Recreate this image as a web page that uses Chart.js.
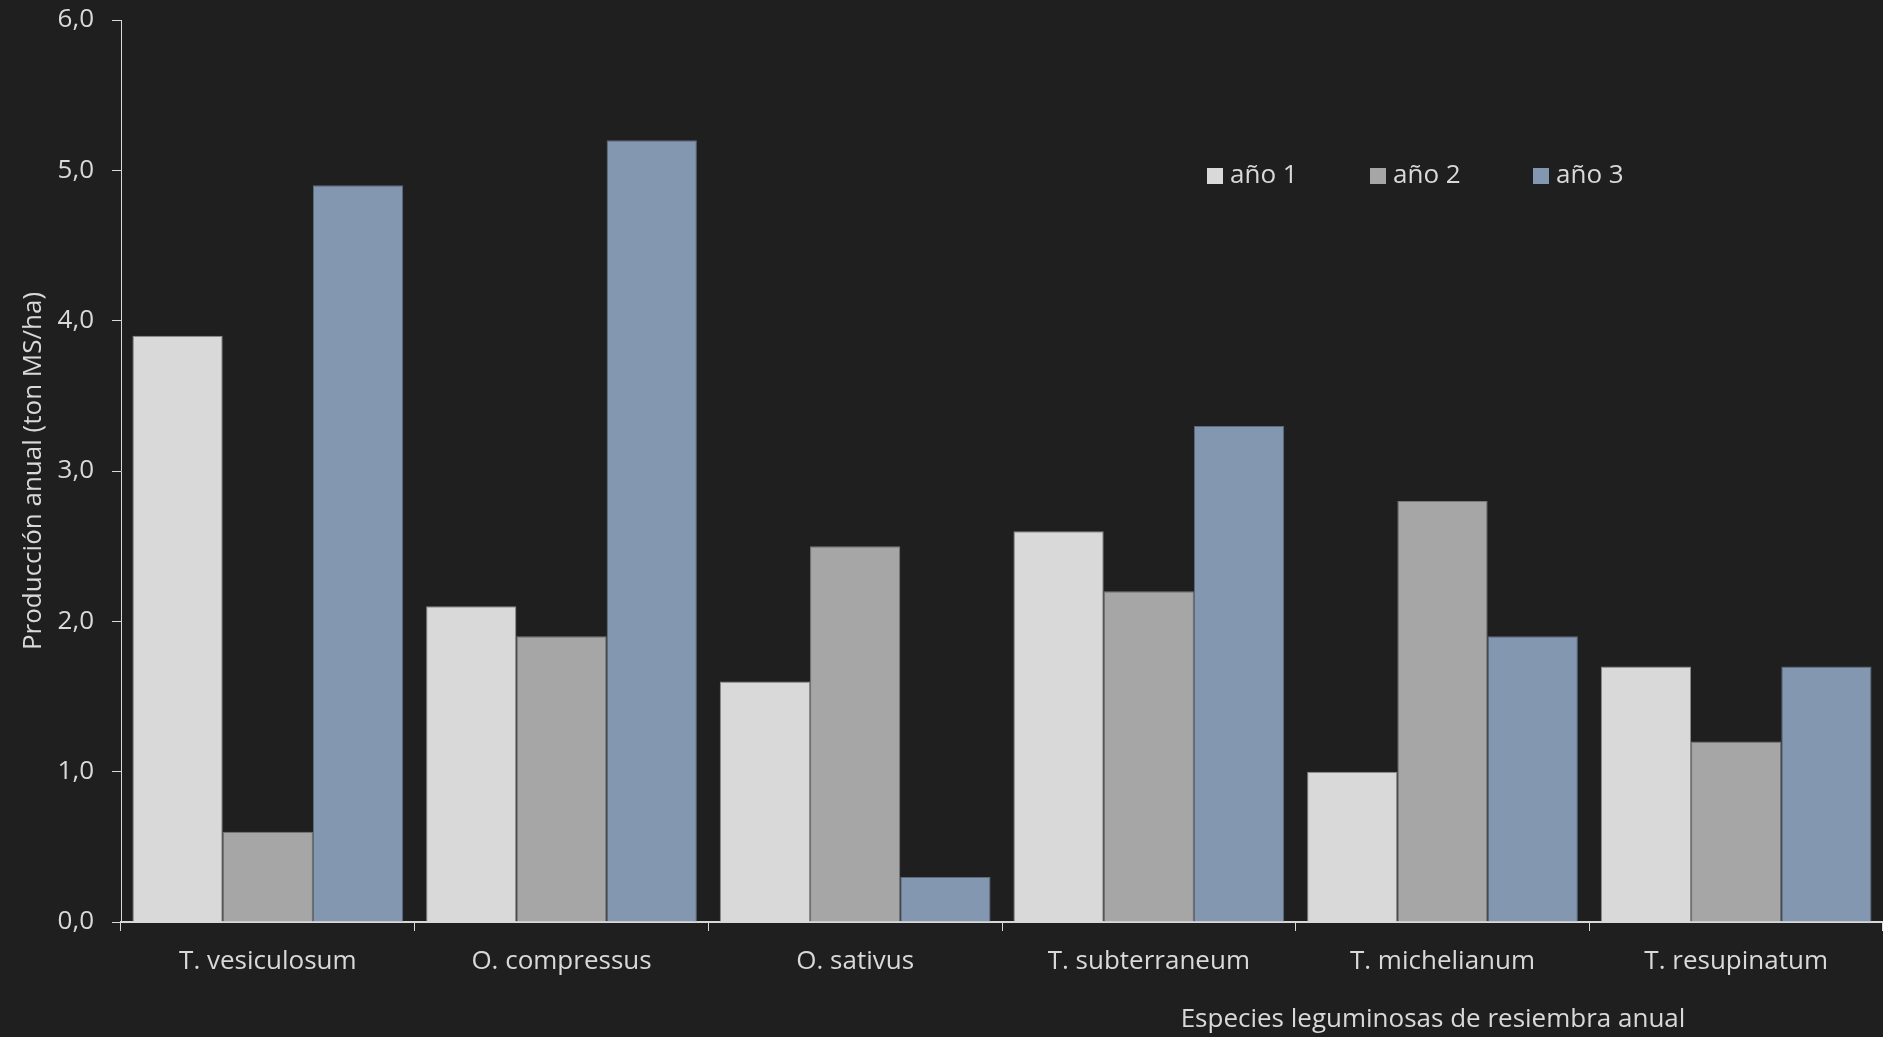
<!DOCTYPE html>
<html>
<head>
<meta charset="utf-8">
<script src="https://cdn.jsdelivr.net/npm/chart.js@4/dist/chart.umd.min.js"></script>
<style>
  html, body { margin: 0; padding: 0; background: #1f1f1f; }
  #wrap { width: 1883px; height: 1037px; }
</style>
</head>
<body>
<div id="wrap"><canvas id="c"></canvas></div>
<script>
const especies = ['T. vesiculosum', 'O. compressus', 'O. sativus', 'T. subterraneum', 'T. michelianum', 'T. resupinatum'];
const ano1 = [3.9, 2.1, 1.6, 2.6, 1.0, 1.7];
const ano2 = [0.6, 1.9, 2.5, 2.2, 2.8, 1.2];
const ano3 = [4.9, 5.2, 0.3, 3.3, 1.9, 1.7];
const yTicks = [0, 1, 2, 3, 4, 5, 6];

const txt = '#d9d9d9';
const fontFam = "'Open Sans', sans-serif";
const fs = 26;

// leyenda dibujada a mano dentro del área
const legendaPlugin = {
  id: 'legenda',
  afterDraw(chart) {
    const ctx = chart.ctx;
    const xs = [1207, 1370, 1533];
    ctx.save();
    ctx.font = fs + 'px ' + fontFam;
    ctx.textBaseline = 'middle';
    chart.data.datasets.forEach((ds, i) => {
      ctx.fillStyle = ds.backgroundColor;
      ctx.fillRect(xs[i], 168, 16, 16);
      ctx.fillStyle = txt;
      ctx.fillText(ds.label, xs[i] + 23, 176);
    });
    // titulo eje x
    ctx.textAlign = 'center';
    ctx.fillText('Especies leguminosas de resiembra anual', 1433, 1020);
    ctx.restore();
  }
};

new Chart(document.getElementById('c'), {
  type: 'bar',
  data: {
    labels: especies,
    datasets: [
      { label: 'año 1', data: ano1, backgroundColor: '#d9d9d9', borderColor: '#8a8a8a', borderWidth: 1 },
      { label: 'año 2', data: ano2, backgroundColor: '#a6a6a6', borderColor: '#7a7a7a', borderWidth: 1 },
      { label: 'año 3', data: ano3, backgroundColor: '#8497b0', borderColor: '#5d6b7e', borderWidth: 1 }
    ]
  },
  options: {
    responsive: true,
    maintainAspectRatio: false,
    animation: false,
    layout: { padding: { top: 20, right: 0, left: 0, bottom: 0 } },
    datasets: { bar: { categoryPercentage: 0.922, barPercentage: 1 } },
    plugins: {
      legend: { display: false },
      tooltip: { enabled: false }
    },
    scales: {
      x: {
        grid: { display: true, drawOnChartArea: false, drawTicks: true, tickLength: 9, color: txt, offset: true },
        border: { display: true, color: txt, width: 2 },
        ticks: { color: txt, font: { family: fontFam, size: fs }, padding: 15, maxRotation: 0 },
        afterFit(scale) { scale.height = 115; scale.paddingLeft = 0; scale.paddingRight = 0; }
      },
      y: {
        min: 0,
        max: 6,
        afterBuildTicks(scale) { scale.ticks = yTicks.map(v => ({ value: v })); },
        grid: { display: true, drawOnChartArea: false, drawTicks: true, tickLength: 9, color: txt },
        border: { display: true, color: txt, width: 1 },
        ticks: {
          color: txt,
          font: { family: fontFam, size: fs },
          padding: 18,
          callback: v => v.toFixed(1).replace('.', ',')
        },
        title: {
          display: true,
          text: 'Producción anual (ton MS/ha)',
          color: txt,
          font: { family: fontFam, size: fs },
          padding: { top: 18, bottom: 0 }
        },
        afterFit(scale) { scale.width = 121; scale.paddingTop = 0; scale.paddingBottom = 0; }
      }
    }
  },
  plugins: [legendaPlugin]
});
</script>
</body>
</html>
